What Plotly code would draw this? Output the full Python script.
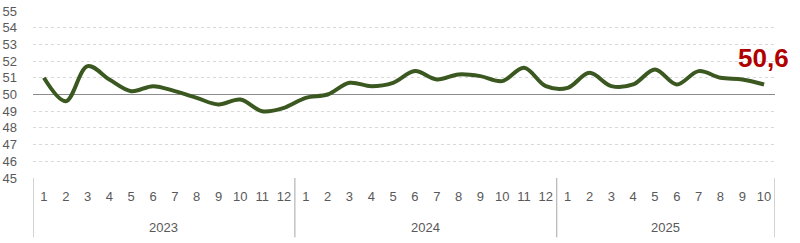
import plotly.graph_objects as go

years = ["2023"] * 12 + ["2024"] * 12 + ["2025"] * 10
months = [str(m) for m in range(1, 13)] + [str(m) for m in range(1, 13)] + [str(m) for m in range(1, 11)]
values = [51.0, 49.6, 51.7, 50.9, 50.2, 50.5, 50.2, 49.8, 49.4, 49.7, 49.0, 49.2,
          49.8, 50.0, 50.7, 50.5, 50.7, 51.4, 50.9, 51.2, 51.1, 50.8, 51.6, 50.5,
          50.4, 51.3, 50.5, 50.6, 51.5, 50.6, 51.4, 51.0, 50.9, 50.6]
threshold = 50
y_ticks = list(range(45, 56))
last_label = f"{values[-1]:.1f}".replace(".", ",")

idx = list(range(len(values)))
x_lo, x_hi = -0.5, len(values) - 0.5

fig = go.Figure()
# reference line at 50 (drawn above the dashed grid, below the series)
fig.add_trace(go.Scatter(
    x=[x_lo, x_hi], y=[threshold, threshold], mode="lines",
    line=dict(color="#8C8C8C", width=1), hoverinfo="skip", showlegend=False,
))
fig.add_trace(go.Scatter(
    x=idx, y=values, mode="lines",
    line=dict(color="#3A5820", width=4, shape="spline", smoothing=1.0),
    hoverinfo="skip", showlegend=False,
))

# year groups: dividers at group boundaries and a centered label per group
groups = []
for i, yv in enumerate(years):
    if not groups or groups[-1][0] != yv:
        groups.append([yv, i, i])
    else:
        groups[-1][2] = i
bounds = [groups[0][1] - 0.5] + [g[2] + 0.5 for g in groups]
for b in bounds:
    fig.add_shape(type="line", xref="x", x0=b, x1=b, yref="paper",
                  y0=0, y1=-0.355, line=dict(color="#A6A6A6", width=1))
for name, i0, i1 in groups:
    fig.add_annotation(xref="x", yref="paper", x=(i0 + i1) / 2, y=-0.299,
                       text=name, showarrow=False, xanchor="center", yanchor="middle",
                       font=dict(family="Liberation Sans", size=13, color="#595959"))

fig.add_annotation(
    xref="paper", yref="y", x=0.9845, y=values[-1] + 1.6,
    text=f"<b>{last_label}</b>", showarrow=False,
    font=dict(family="Liberation Sans", size=26, color="#B00000"),
    xanchor="center", yanchor="middle",
)

fig.update_layout(
    width=800, height=243,
    margin=dict(l=33, r=25, t=11, b=65),
    plot_bgcolor="white", paper_bgcolor="white",
    font=dict(family="Liberation Sans", size=13, color="#595959"),
)
fig.update_xaxes(
    showgrid=False, showline=False, ticks="", zeroline=False,
    tickvals=idx, ticktext=months, tickangle=0,
    tickfont=dict(size=13, color="#595959"), ticklabelstandoff=9,
    range=[x_lo, x_hi], automargin=False,
)
fig.update_yaxes(
    range=[45, 55], tickvals=y_ticks, showgrid=True, gridcolor="#D9D9D9",
    griddash="3px,3px", gridwidth=1, zeroline=False, showline=False,
    tickfont=dict(size=13, color="#595959"), ticklabelstandoff=15,
    automargin=False,
)

fig.write_html("out.html")
